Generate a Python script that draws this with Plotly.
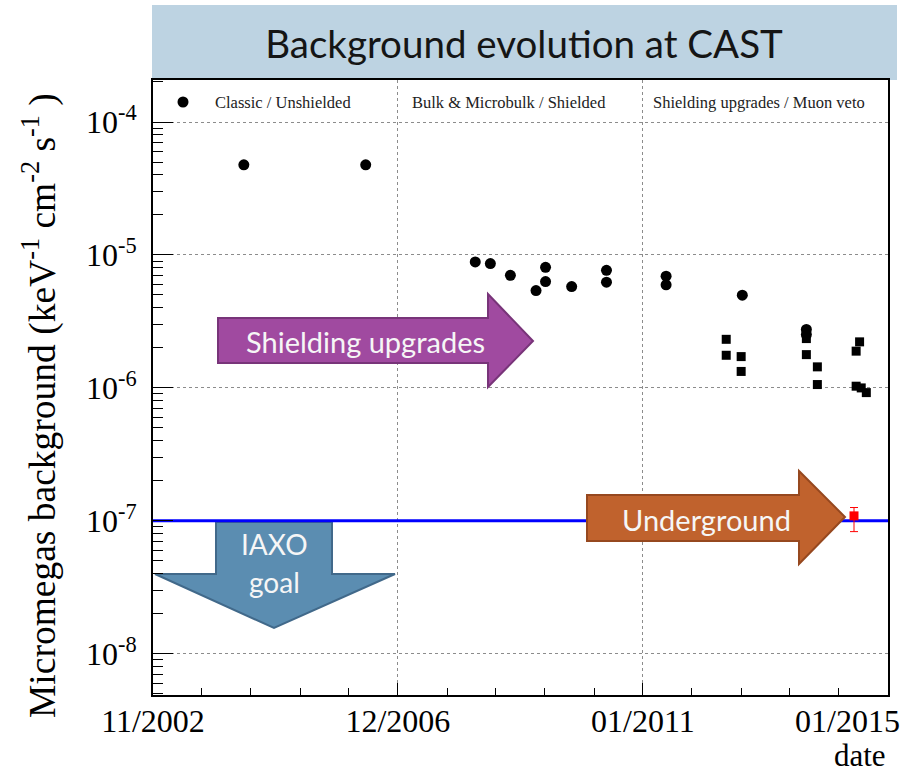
import numpy as np
import pandas as pd
import plotly.graph_objects as go

# ---------------- data ----------------
classic_dates = ["2004-05-07", "2006-05-19"]
classic_bkg = [4.76e-5, 4.76e-5]

bulk_dates = ["2008-03-16", "2008-06-16", "2008-10-16", "2009-03-21", "2009-05-18",
              "2009-05-18", "2009-10-24", "2010-05-24", "2010-05-24", "2011-05-22",
              "2011-05-22", "2012-08-28", "2013-09-22", "2013-09-22"]
bulk_bkg = [8.86e-6, 8.61e-6, 7.03e-6, 5.40e-6, 8.07e-6,
            6.31e-6, 5.78e-6, 7.66e-6, 6.24e-6, 6.92e-6,
            5.96e-6, 4.98e-6, 2.75e-6, 2.52e-6]

upgrade_dates = ["2012-05-22", "2012-05-22", "2012-08-21", "2012-08-21", "2013-09-22",
                 "2013-09-22", "2013-11-28", "2013-11-28", "2014-08-12", "2014-07-22",
                 "2014-07-22", "2014-08-22", "2014-09-22"]
upgrade_bkg = [2.32e-6, 1.76e-6, 1.72e-6, 1.33e-6, 2.35e-6,
               1.78e-6, 1.44e-6, 1.06e-6, 2.22e-6, 1.89e-6,
               1.03e-6, 1.00e-6, 9.22e-7]

underground_dates = ["2014-07-09"]
underground_bkg = [1.09e-7]
underground_err_up = [0.17e-7]
underground_err_down = [0.26e-7]

iaxo_goal = 1e-7

axis_dates = ["2002-11-01", "2006-12-01", "2011-01-01", "2015-02-01"]
axis_labels = ["11/2002", "12/2006", "01/2011", "01/2015"]
y_tick_vals = [1e-8, 1e-7, 1e-6, 1e-5, 1e-4]
y_tick_text = ["10<sup>-8</sup>", "10<sup>-7</sup>", "10<sup>-6</sup>",
               "10<sup>-5</sup>", "10<sup>-4</sup>"]
y_min, y_max = 4.9e-9, 2.07e-4

era_labels = ["Classic / Unshielded", "Bulk & Microbulk / Shielded",
              "Shielding upgrades / Muon veto"]

# ---------------- geometry helpers ----------------
W, H = 912, 776
PL, PR, PT, PB = 153, 888, 80, 695


def px(x):
    return (x - PL) / (PR - PL)


def py(y):
    return (PB - y) / (PB - PT)


def path(points):
    return "M " + " L ".join(f"{px(a):.5f},{py(b):.5f}" for a, b in points) + " Z"


SERIF = "Liberation Serif, Times New Roman, serif"
SANS = "Lato, Open Sans, sans-serif"

# minor ticks
t0 = pd.Timestamp(axis_dates[0])
t1 = pd.Timestamp(axis_dates[-1])
x_minor = [(t0 + (t1 - t0) * k / 15).strftime("%Y-%m-%d") for k in range(1, 15) if k % 5]
y_minor = [m * 10.0 ** e for e in range(-9, -3) for m in range(2, 10)
           if y_min <= m * 10.0 ** e <= y_max]

fig = go.Figure()

# IAXO goal line
fig.add_trace(go.Scatter(x=[axis_dates[0], axis_dates[-1]], y=[iaxo_goal, iaxo_goal],
                         mode="lines", line=dict(color="#0000ff", width=3),
                         hoverinfo="skip", showlegend=False, name="IAXO goal"))

fig.add_trace(go.Scatter(x=upgrade_dates, y=upgrade_bkg, mode="markers",
                         marker=dict(symbol="square", size=9, color="black"),
                         name=era_labels[2], showlegend=False))
fig.add_trace(go.Scatter(x=classic_dates, y=classic_bkg, mode="markers",
                         marker=dict(symbol="circle", size=11, color="black"),
                         name=era_labels[0], showlegend=False))
fig.add_trace(go.Scatter(x=bulk_dates, y=bulk_bkg, mode="markers",
                         marker=dict(symbol="circle", size=11, color="black"),
                         name=era_labels[1], showlegend=False))
fig.add_trace(go.Scatter(x=underground_dates, y=underground_bkg, mode="markers",
                         marker=dict(symbol="square", size=9, color="#ff0000"),
                         error_y=dict(type="data", array=underground_err_up,
                                      arrayminus=underground_err_down,
                                      color="#ff0000", thickness=1, width=4),
                         name="Underground", showlegend=False))

shapes = []
# title banner
shapes.append(dict(type="rect", xref="paper", yref="paper",
                   x0=px(152), x1=px(897), y0=py(80), y1=py(5),
                   fillcolor="#bdd3e2", line=dict(width=0), layer="below"))
# legend dot
shapes.append(dict(type="circle", xref="paper", yref="paper",
                   x0=px(183 - 5.5), x1=px(183 + 5.5), y0=py(102 + 5.5), y1=py(102 - 5.5),
                   fillcolor="black", line=dict(width=0)))
# IAXO goal arrow (down)
shapes.append(dict(type="path", xref="paper", yref="paper", layer="below",
                   path=path([(216, 522), (332, 522), (332, 574), (395, 574),
                              (274, 628), (155, 574), (216, 574)]),
                   fillcolor="#5b8db1", line=dict(color="#41698a", width=2)))
# Shielding upgrades arrow
shapes.append(dict(type="path", xref="paper", yref="paper", layer="above",
                   path=path([(218, 318), (488, 318), (488, 294), (533, 341),
                              (488, 387), (488, 363), (218, 363)]),
                   fillcolor="#a04aa0", line=dict(color="#783479", width=2)))
# Underground arrow
shapes.append(dict(type="path", xref="paper", yref="paper", layer="above",
                   path=path([(587, 495), (799, 495), (799, 471), (845, 517),
                              (799, 564), (799, 541), (587, 541)]),
                   fillcolor="#c0622d", line=dict(color="#96481f", width=2)))

annotations = []


def ann(text, x, y, size, family, color="black", xanchor="center", angle=0):
    annotations.append(dict(text=text, x=px(x), y=py(y), xref="paper", yref="paper",
                            showarrow=False, xanchor=xanchor, yanchor="middle",
                            textangle=angle, font=dict(size=size, family=family, color=color)))


ann(era_labels[0], 213, 102, 16.5, SERIF, "#222", "left")
ann(era_labels[1], 410, 102, 16.5, SERIF, "#222", "left")
ann(era_labels[2], 651, 102, 16.5, SERIF, "#222", "left")
ann("Shielding upgrades", 365, 341, 29, SANS, "#f6f6f6")
ann("Underground", 706, 519, 29, SANS, "#f6f6f6")
ann("IAXO", 274, 544, 28, SANS, "#f6f6f6")
ann("goal", 274, 582, 28, SANS, "#f6f6f6")
ann(axis_labels[-1], 847, 721, 32, SERIF)
ann("date", 860, 755, 31, SERIF)
ann("Micromegas background (keV<sup>-1</sup> cm<sup>-2</sup> s<sup>-1</sup> )",
    40, 406, 37.5, SERIF, angle=-90)

fig.update_layout(
    width=W, height=H,
    margin=dict(l=PL, r=W - PR, t=PT, b=H - PB),
    paper_bgcolor="white", plot_bgcolor="white",
    title=dict(text="Background evolution at CAST", x=524 / W, xanchor="center",
               y=1 - 45 / H, yanchor="middle", xref="container", yref="container",
               font=dict(family=SANS, size=38.5, color="#151515")),
    shapes=shapes, annotations=annotations, showlegend=False,
    xaxis=dict(type="date", range=[axis_dates[0], axis_dates[-1]],
               tickmode="array", tickvals=axis_dates,
               ticktext=axis_labels[:-1] + [""],
               ticks="inside", ticklen=12, tickwidth=1, tickcolor="black",
               tickfont=dict(family=SERIF, size=32, color="black"),
               ticklabelstandoff=-3,
               showgrid=True, gridcolor="#8c8c8c", griddash="dot", gridwidth=1,
               showline=True, linecolor="black", linewidth=2, mirror=True,
               zeroline=False,
               minor=dict(tickmode="array", tickvals=x_minor, ticks="inside",
                          ticklen=7, tickcolor="black", tickwidth=1, showgrid=False)),
    yaxis=dict(type="log", range=[np.log10(y_min), np.log10(y_max)],
               tickmode="array", tickvals=y_tick_vals, ticktext=y_tick_text,
               ticks="inside", ticklen=20, tickwidth=1, tickcolor="black",
               tickfont=dict(family=SERIF, size=32, color="black"),
               ticklabelstandoff=8,
               showgrid=True, gridcolor="#8c8c8c", griddash="dot", gridwidth=1,
               showline=True, linecolor="black", linewidth=2, mirror=True,
               zeroline=False,
               minor=dict(tickmode="array", tickvals=y_minor, ticks="inside",
                          ticklen=10, tickcolor="black", tickwidth=1, showgrid=False)),
)

fig.write_html("out.html")
